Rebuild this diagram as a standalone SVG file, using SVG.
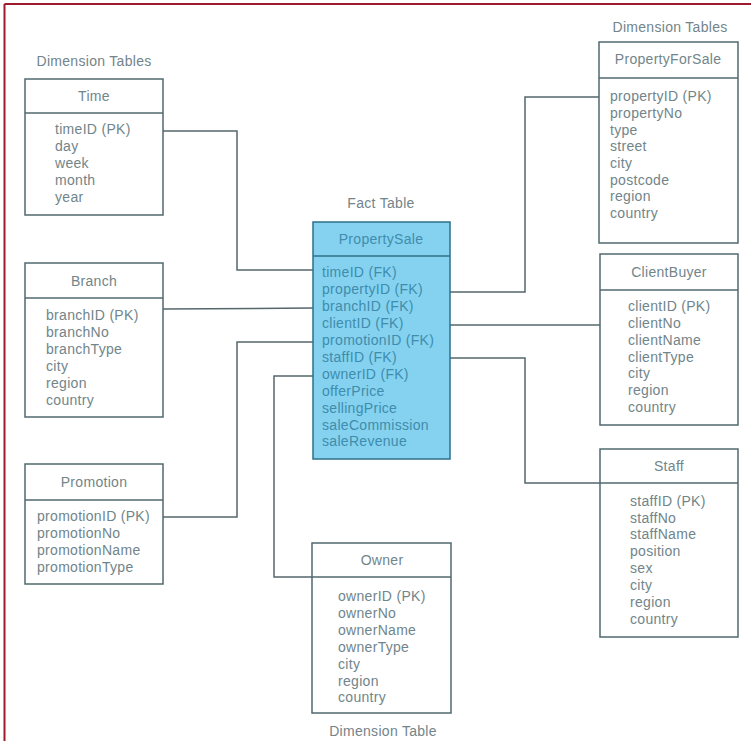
<svg xmlns="http://www.w3.org/2000/svg" width="751" height="741" viewBox="0 0 751 741">
  <style>
    text { font-family: "Liberation Sans", Arial, sans-serif; font-size: 14px; letter-spacing: 0.3px; fill: #71858a; }
    .title { text-anchor: middle; }
    .caption { text-anchor: middle; fill: #73848a; }
    .box { fill: #ffffff; stroke: #50696d; stroke-width: 1.5; }
    .fact { fill: #84d2ef; stroke: #2f6f88; stroke-width: 1.5; }
    .fact-text { fill: #3f8cad; }
    .link { fill: none; stroke: #56676b; stroke-width: 1.5; }
  </style>

  <rect x="0" y="0" width="751" height="741" fill="#ffffff"/>
  <!-- frame edges -->
  <line x1="4.5" y1="4" x2="751" y2="4" stroke="#9e1b2d" stroke-width="2"/>
  <line x1="4.5" y1="4" x2="4.5" y2="741" stroke="#9e1b2d" stroke-width="2"/>

  <!-- captions -->
  <text class="caption" x="94" y="66">Dimension Tables</text>
  <text class="caption" x="670" y="32">Dimension Tables</text>
  <text class="caption" x="381" y="208">Fact Table</text>
  <text class="caption" x="383" y="736">Dimension Table</text>

  <!-- connectors -->
  <g id="connectors">
    <polyline class="link" points="163,131 237,131 237,270 313,270"/>
    <polyline class="link" points="163,309 313,308"/>
    <polyline class="link" points="313,342 237,342 237,517 163,517"/>
    <polyline class="link" points="313,376 274,376 274,577 312,577"/>
    <polyline class="link" points="450,292 525,292 525,97 600,97"/>
    <polyline class="link" points="450,325 600,325"/>
    <polyline class="link" points="450,358 525,358 525,483 600,483"/>
  </g>

  <!-- Time -->
  <g id="time">
    <rect class="box" x="25" y="79" width="138" height="136"/>
    <line class="box" x1="25" y1="113" x2="163" y2="113"/>
    <text class="title" x="94" y="101">Time</text>
    <text x="55" y="134">timeID (PK)</text>
    <text x="55" y="151">day</text>
    <text x="55" y="168">week</text>
    <text x="55" y="185">month</text>
    <text x="55" y="202">year</text>
  </g>

  <!-- Branch -->
  <g id="branch">
    <rect class="box" x="25" y="263" width="138" height="154"/>
    <line class="box" x1="25" y1="298" x2="163" y2="298"/>
    <text class="title" x="94" y="286">Branch</text>
    <text x="46" y="320">branchID (PK)</text>
    <text x="46" y="337">branchNo</text>
    <text x="46" y="354">branchType</text>
    <text x="46" y="371">city</text>
    <text x="46" y="388">region</text>
    <text x="46" y="405">country</text>
  </g>

  <!-- Promotion -->
  <g id="promotion">
    <rect class="box" x="25" y="464" width="138" height="120"/>
    <line class="box" x1="25" y1="500" x2="163" y2="500"/>
    <text class="title" x="94" y="487">Promotion</text>
    <text x="37" y="521">promotionID (PK)</text>
    <text x="37" y="538">promotionNo</text>
    <text x="37" y="555">promotionName</text>
    <text x="37" y="572">promotionType</text>
  </g>

  <!-- PropertySale (fact table) -->
  <g id="property-sale">
    <rect class="fact" x="313" y="222" width="137" height="237"/>
    <line class="fact" x1="313" y1="256" x2="450" y2="256"/>
    <text class="title fact-text" x="381" y="244">PropertySale</text>
    <text class="fact-text" x="322" y="277">timeID (FK)</text>
    <text class="fact-text" x="322" y="294">propertyID (FK)</text>
    <text class="fact-text" x="322" y="311">branchID (FK)</text>
    <text class="fact-text" x="322" y="328">clientID (FK)</text>
    <text class="fact-text" x="322" y="345">promotionID (FK)</text>
    <text class="fact-text" x="322" y="362">staffID (FK)</text>
    <text class="fact-text" x="322" y="379">ownerID (FK)</text>
    <text class="fact-text" x="322" y="396">offerPrice</text>
    <text class="fact-text" x="322" y="413">sellingPrice</text>
    <text class="fact-text" x="322" y="430">saleCommission</text>
    <text class="fact-text" x="322" y="446">saleRevenue</text>
  </g>

  <!-- Owner -->
  <g id="owner">
    <rect class="box" x="312" y="543" width="139" height="170"/>
    <line class="box" x1="312" y1="577" x2="451" y2="577"/>
    <text class="title" x="382" y="565">Owner</text>
    <text x="338" y="601">ownerID (PK)</text>
    <text x="338" y="618">ownerNo</text>
    <text x="338" y="635">ownerName</text>
    <text x="338" y="652">ownerType</text>
    <text x="338" y="669">city</text>
    <text x="338" y="686">region</text>
    <text x="338" y="702">country</text>
  </g>

  <!-- PropertyForSale -->
  <g id="property-for-sale">
    <rect class="box" x="599" y="42" width="139" height="201"/>
    <line class="box" x1="599" y1="78" x2="738" y2="78"/>
    <text class="title" x="668" y="64">PropertyForSale</text>
    <text x="610" y="101">propertyID (PK)</text>
    <text x="610" y="118">propertyNo</text>
    <text x="610" y="135">type</text>
    <text x="610" y="151">street</text>
    <text x="610" y="168">city</text>
    <text x="610" y="185">postcode</text>
    <text x="610" y="201">region</text>
    <text x="610" y="218">country</text>
  </g>

  <!-- ClientBuyer -->
  <g id="client-buyer">
    <rect class="box" x="600" y="254" width="138" height="171"/>
    <line class="box" x1="600" y1="290" x2="738" y2="290"/>
    <text class="title" x="669" y="277">ClientBuyer</text>
    <text x="628" y="311">clientID (PK)</text>
    <text x="628" y="328">clientNo</text>
    <text x="628" y="345">clientName</text>
    <text x="628" y="362">clientType</text>
    <text x="628" y="378">city</text>
    <text x="628" y="395">region</text>
    <text x="628" y="412">country</text>
  </g>

  <!-- Staff -->
  <g id="staff">
    <rect class="box" x="600" y="449" width="138" height="188"/>
    <line class="box" x1="600" y1="483" x2="738" y2="483"/>
    <text class="title" x="669" y="471">Staff</text>
    <text x="630" y="506">staffID (PK)</text>
    <text x="630" y="523">staffNo</text>
    <text x="630" y="539">staffName</text>
    <text x="630" y="556">position</text>
    <text x="630" y="573">sex</text>
    <text x="630" y="590">city</text>
    <text x="630" y="607">region</text>
    <text x="630" y="624">country</text>
  </g>
</svg>
